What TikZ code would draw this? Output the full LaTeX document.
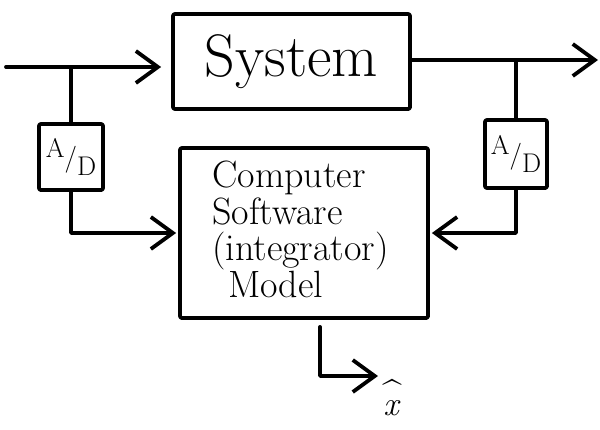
\documentclass[tikz,border=0pt]{standalone}
\usetikzlibrary{arrows.meta}
\begin{document}
\begin{tikzpicture}[x=1pt,y=-1pt,
  ink/.style={line width=3.8pt,line cap=round,line join=round},
  block/.style={ink,draw,rounded corners=2pt,inner sep=0pt},
  conv/.style={block,minimum width=64pt,minimum height=66pt,font=\fontsize{27}{29}\selectfont},
  flow/.style={ink,-{Straight Barb[length=22pt,width=32pt,line width=3.8pt]}}]
\useasboundingbox[fill=white] (0,0) rectangle (600,429);

% blocks
\node[block,minimum width=237pt,minimum height=95pt,
      font=\fontsize{60}{64}\selectfont] (sys) at (291.5,61.5) {System};
\node[block,minimum width=248pt,minimum height=170pt] (comp) at (304,233) {};
\node[font=\fontsize{38}{36.5}\selectfont,align=left,anchor=north west,inner sep=0pt]
      (prog) at (212,161) {Computer\\Software\\(integrator)\\\hspace{16pt}Model};
\node[conv] (ad1) at (71,157)
      {\raisebox{9pt}{A}/\raisebox{-9pt}{D}};
\node[conv,minimum width=62pt,minimum height=68pt] (ad2) at (516,154)
      {\raisebox{9pt}{A}/\raisebox{-9pt}{D}};

% signal taps and outputs
\coordinate (in) at (6,67);
\coordinate (tapin) at (ad1.north |- in);
\coordinate (out) at (598,60);
\coordinate (tapout) at (ad2.north |- out);
\coordinate (xo) at ([xshift=16pt]comp.south);
\coordinate (xend) at (378,376);
\node[font=\fontsize{34}{2}\selectfont,align=center,inner sep=0pt] (xhat) at (392,398)
      {\textasciicircum\\[-5pt]\textit{x}};

% connectors
\draw[flow,shorten >=10pt] (in) -- (sys.west |- in);
\draw[ink] (tapin) -- (ad1.north);
\draw[flow] (sys.east |- out) -- (out);
\draw[ink] (tapout) -- (ad2.north);
\draw[flow,shorten >=2pt] (ad1.south) |- (comp.west);
\draw[flow,shorten >=2pt] (ad2.south) |- (comp.east);
\draw[flow,shorten <=7pt] (xo) |- (xend);
\end{tikzpicture}
\end{document}
